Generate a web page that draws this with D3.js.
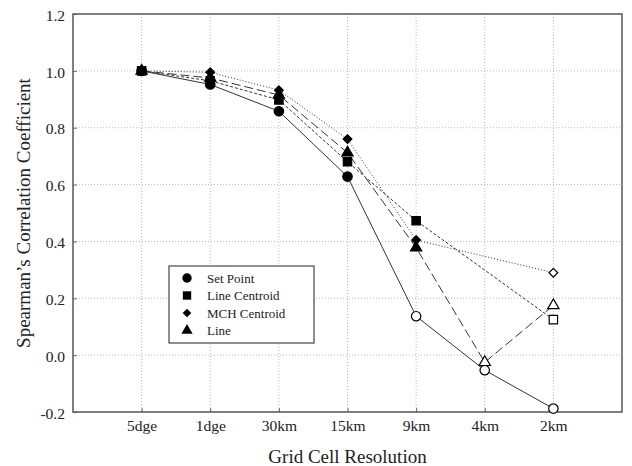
<!DOCTYPE html>
<html>
<head>
<meta charset="utf-8">
<script src="https://cdn.jsdelivr.net/npm/d3@7"></script>
<style>
  body { margin: 0; background: #fff; }
</style>
</head>
<body>
<div id="chart"></div>
<script>
// categories and values
var categories = ["5dge", "1dge", "30km", "15km", "9km", "4km", "2km"];
var yTicks = [-0.2, 0.0, 0.2, 0.4, 0.6, 0.8, 1.0, 1.2];

var setPoint     = [1.0, 0.952, 0.858, 0.628, 0.137, -0.053, -0.188];
var lineCentroid = [1.0, 0.965, 0.898, 0.680, 0.473, null, 0.125];
var mchCentroid  = [1.0, 0.995, 0.932, 0.760, 0.405, null, 0.290];
var lineSeries   = [1.0, 0.975, 0.915, 0.712, 0.378, -0.025, 0.175];

var seriesNames = ["Set Point", "Line Centroid", "MCH Centroid", "Line"];

// markers below this value are drawn hollow in the original
var hollowBelow = 0.35;

var series = [
  {name: seriesNames[0], values: setPoint,     symbol: d3.symbolCircle,   size: 70, rot: 0,  dash: null},
  {name: seriesNames[1], values: lineCentroid, symbol: d3.symbolSquare,   size: 70, rot: 0,  dash: "3,2"},
  {name: seriesNames[2], values: mchCentroid,  symbol: d3.symbolSquare,   size: 38, rot: 45, dash: "1,2"},
  {name: seriesNames[3], values: lineSeries,   symbol: d3.symbolTriangle, size: 55, rot: 0,  dash: "9,4"}
];

var W = 632, H = 466;
var margin = {top: 14, right: 10, bottom: 54, left: 73};
var width = W - margin.left - margin.right;
var height = H - margin.top - margin.bottom;

var serif = '"Liberation Serif", "Times New Roman", serif';

var svg = d3.select("#chart").append("svg")
    .attr("width", W)
    .attr("height", H);

var g = svg.append("g")
    .attr("transform", "translate(" + margin.left + "," + margin.top + ")");

var x = d3.scaleLinear().domain([0, categories.length + 1]).range([0, width]);
var y = d3.scaleLinear().domain([-0.2, 1.2]).range([height, 0]);

// grid
g.append("g")
  .selectAll("line")
  .data(yTicks.slice(1, -1))
  .enter().append("line")
  .attr("x1", 0).attr("x2", width)
  .attr("y1", function(d) { return y(d); })
  .attr("y2", function(d) { return y(d); })
  .attr("stroke", "#bbb")
  .attr("stroke-width", 1)
  .attr("stroke-dasharray", "1,2");

g.append("g")
  .selectAll("line")
  .data(categories)
  .enter().append("line")
  .attr("x1", function(d, i) { return x(i + 1); })
  .attr("x2", function(d, i) { return x(i + 1); })
  .attr("y1", 0).attr("y2", height)
  .attr("stroke", "#bbb")
  .attr("stroke-width", 1)
  .attr("stroke-dasharray", "1,2");

// axes
var xAxis = d3.axisBottom(x)
    .tickValues(d3.range(1, categories.length + 1))
    .tickFormat(function(d) { return categories[d - 1]; })
    .tickSize(-4)
    .tickPadding(8);

var yAxis = d3.axisLeft(y)
    .tickValues(yTicks)
    .tickFormat(function(d) { return d.toFixed(1); })
    .tickSize(-4)
    .tickPadding(8);

var gx = g.append("g")
  .attr("transform", "translate(0," + height + ")")
  .call(xAxis);
gx.select(".domain").remove();
gx.selectAll("text")
  .style("font-family", serif)
  .style("font-size", "15.5px")
  .attr("fill", "#222");
gx.selectAll("line").attr("stroke", "#666");

var gy = g.append("g").call(yAxis);
gy.select(".domain").remove();
gy.selectAll("text")
  .style("font-family", serif)
  .style("font-size", "15.5px")
  .attr("dy", "0.4em")
  .attr("fill", "#222");
gy.selectAll("line").attr("stroke", "#666");

// frame
g.append("rect")
  .attr("width", width)
  .attr("height", height)
  .attr("fill", "none")
  .attr("stroke", "#555")
  .attr("stroke-width", 1.5);

// lines
series.forEach(function(s) {
  var pts = s.values.map(function(v, i) { return {i: i, v: v}; })
    .filter(function(p) { return p.v != null; });
  g.append("path")
    .datum(pts)
    .attr("fill", "none")
    .attr("stroke", "#333")
    .attr("stroke-width", 1)
    .attr("stroke-dasharray", s.dash)
    .attr("d", d3.line()
      .x(function(p) { return x(p.i + 1); })
      .y(function(p) { return y(p.v); }));
});

// markers
series.forEach(function(s) {
  g.append("g")
    .selectAll("path")
    .data(s.values.map(function(v, i) { return {i: i, v: v}; })
      .filter(function(p) { return p.v != null; }))
    .enter().append("path")
    .attr("transform", function(p) {
      return "translate(" + x(p.i + 1) + "," + y(p.v) + ") rotate(" + s.rot + ")";
    })
    .attr("d", d3.symbol().type(s.symbol).size(s.size))
    .attr("fill", function(p) { return p.v < hollowBelow ? "#fff" : "#000"; })
    .attr("stroke", "#000")
    .attr("stroke-width", 1.2);
});

// legend
var legend = svg.append("g")
  .attr("transform", "translate(169,266)");
legend.append("rect")
  .attr("width", 145)
  .attr("height", 77)
  .attr("fill", "#fff")
  .attr("stroke", "#444")
  .attr("stroke-width", 1.2);
series.forEach(function(s, i) {
  var row = legend.append("g").attr("transform", "translate(0," + (12 + i * 17.5) + ")");
  row.append("path")
    .attr("transform", "translate(18,0) rotate(" + s.rot + ")")
    .attr("d", d3.symbol().type(s.symbol).size(s.size))
    .attr("fill", "#000");
  row.append("text")
    .attr("x", 38)
    .attr("dy", "0.35em")
    .style("font-family", serif)
    .style("font-size", "13px")
    .attr("fill", "#222")
    .text(s.name);
});

// axis titles
svg.append("text")
  .attr("x", margin.left + width / 2)
  .attr("y", 463)
  .attr("text-anchor", "middle")
  .style("font-family", serif)
  .style("font-size", "19px")
  .attr("fill", "#222")
  .text("Grid Cell Resolution");

svg.append("text")
  .attr("transform", "translate(29.5," + (margin.top + height / 2) + ") rotate(-90)")
  .attr("text-anchor", "middle")
  .style("font-family", serif)
  .style("font-size", "19px")
  .attr("fill", "#222")
  .text("Spearman’s Correlation Coefficient");
</script>
</body>
</html>
